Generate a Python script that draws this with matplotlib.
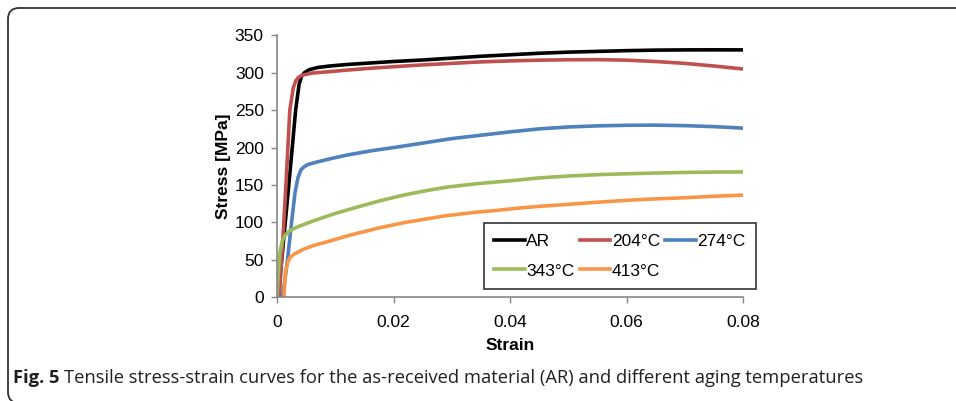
import matplotlib
matplotlib.use("Agg")
import matplotlib.pyplot as plt
from matplotlib.patches import FancyBboxPatch
from matplotlib.transforms import IdentityTransform

plt.rcParams['font.family'] = ['Liberation Sans', 'DejaVu Sans']

# strain / stress [MPa]
ar_x = [0.0002, 0.0013, 0.0025, 0.0032, 0.0038, 0.0042, 0.0047, 0.0055, 0.007, 0.0091,
        0.012, 0.016, 0.02, 0.025, 0.03, 0.035, 0.04, 0.045, 0.05, 0.055, 0.06, 0.065,
        0.07, 0.075, 0.08]
ar_y = [0, 90, 190, 250, 285, 295, 300, 304, 307, 309,
        311, 313, 315, 317, 319.5, 322, 324, 326, 327.5, 328.5, 329.5, 330.2,
        330.5, 330.6, 330.5]

t204_x = [0.0004, 0.0007, 0.0011, 0.0016, 0.0022, 0.0028, 0.0032, 0.0037, 0.0045, 0.006,
          0.0091, 0.012, 0.016, 0.02, 0.025, 0.03, 0.035, 0.04, 0.045, 0.05, 0.055,
          0.06, 0.065, 0.07, 0.075, 0.08]
t204_y = [0, 40, 90, 160, 250, 280, 289, 294, 297, 299.5,
          301.5, 303.5, 306, 308, 310.5, 312.5, 314.5, 315.8, 316.8, 317.3, 317.5,
          316.8, 315, 312.5, 309, 305]

t274_x = [0.0009, 0.0013, 0.0018, 0.0025, 0.0031, 0.0036, 0.0041, 0.0046, 0.0052, 0.0065,
          0.0091, 0.012, 0.016, 0.02, 0.025, 0.03, 0.035, 0.04, 0.045, 0.05, 0.055,
          0.06, 0.065, 0.07, 0.075, 0.08]
t274_y = [0, 20, 50, 100, 140, 160, 170, 174, 177, 180,
          185, 190, 195.5, 200, 206, 212, 216.5, 221, 225, 227.5, 229,
          229.8, 230, 229.3, 228, 226]

t343_x = [0, 0.0002, 0.0005, 0.0009, 0.0014, 0.0022, 0.0035, 0.0062, 0.01, 0.014,
          0.0177, 0.022, 0.026, 0.029, 0.034, 0.0383, 0.0405, 0.045, 0.05, 0.0555,
          0.06, 0.065, 0.07, 0.075, 0.08]
t343_y = [0, 30, 60, 75, 83, 89, 94, 102, 112, 121,
          129, 137, 143, 147, 151.5, 154.5, 156, 159.5, 162, 164,
          165, 166, 166.8, 167.3, 167.5]

t413_x = [0.0012, 0.0013, 0.0015, 0.0018, 0.0022, 0.003, 0.0045, 0.0062, 0.009, 0.0125,
          0.0177, 0.022, 0.029, 0.034, 0.0383, 0.0405, 0.045, 0.0497, 0.055, 0.06,
          0.0635, 0.07, 0.075, 0.08]
t413_y = [0, 15, 35, 46, 53, 58, 64, 69, 75, 83,
          93, 100, 109, 113.5, 116.5, 118.5, 121.5, 124, 127, 129.5,
          131, 133, 135, 136.5]

fig = plt.figure(figsize=(9.56, 4.01), dpi=100)
ax = fig.add_axes([277 / 956, 1 - 297.3 / 401, 466 / 956, 262 / 401])

lw = 2.6
l_ar, = ax.plot(ar_x, ar_y, color='#000000', lw=lw, label='AR')
l_204, = ax.plot(t204_x, t204_y, color='#C0504D', lw=lw, label='204°C')
l_274, = ax.plot(t274_x, t274_y, color='#4F81BD', lw=lw, label='274°C')
l_343, = ax.plot(t343_x, t343_y, color='#9BBB59', lw=lw, label='343°C')
l_413, = ax.plot(t413_x, t413_y, color='#F79646', lw=lw, label='413°C')

ax.set_xlim(0, 0.08)
ax.set_ylim(0, 350)
ax.set_xticks([0, 0.02, 0.04, 0.06, 0.08])
ax.set_xticklabels(['0', '0.02', '0.04', '0.06', '0.08'])
ax.set_yticks(range(0, 351, 50))
for s in ['top', 'right']:
    ax.spines[s].set_visible(False)
for s in ['left', 'bottom']:
    ax.spines[s].set_color('#868686')
    ax.spines[s].set_linewidth(1.2)
ax.tick_params(direction='out', length=4.5, width=1, color='#868686',
               labelsize=12.5)
ax.tick_params(axis='x', pad=8)
ax.tick_params(axis='y', pad=5)
ax.set_xlabel('Strain', fontsize=12.5, fontweight='bold', labelpad=6)
ax.set_ylabel('Stress [MPa]', fontsize=12.5, fontweight='bold', labelpad=3)

# row-major order like the original legend
leg = ax.legend([l_ar, l_343, l_204, l_413, l_274],
                ['AR', '343°C', '204°C', '413°C', '274°C'],
                ncol=3, loc='center', bbox_to_anchor=(620 / 956, 1 - 256 / 401),
                bbox_transform=fig.transFigure, fontsize=12.5, frameon=True,
                fancybox=False, edgecolor='black', handlelength=1.75,
                handletextpad=0.1, columnspacing=0.3, labelspacing=0.85,
                borderpad=0.6, borderaxespad=0)
leg.get_frame().set_linewidth(1.2)

# outer rounded frame (pixel coordinates)
frame = FancyBboxPatch((8, -2), 990, 395, boxstyle='round,pad=0,rounding_size=11',
                       transform=IdentityTransform(), fill=False,
                       edgecolor='#333333', linewidth=1.3, clip_on=False)
fig.add_artist(frame)

cap1 = fig.text(13 / 956, 1 - 378 / 401, 'Fig. 5', fontsize=13.2, fontweight='bold',
                family='Open Sans', va='center', color='#231f20')
fig.canvas.draw()
bb = cap1.get_window_extent()
fig.text((bb.x1 + 5) / 956, 1 - 378 / 401,
         'Tensile stress-strain curves for the as-received material (AR) and different aging temperatures',
         fontsize=13.2, family='Open Sans', va='center', color='#231f20')

fig.savefig('out.png', dpi=100)
